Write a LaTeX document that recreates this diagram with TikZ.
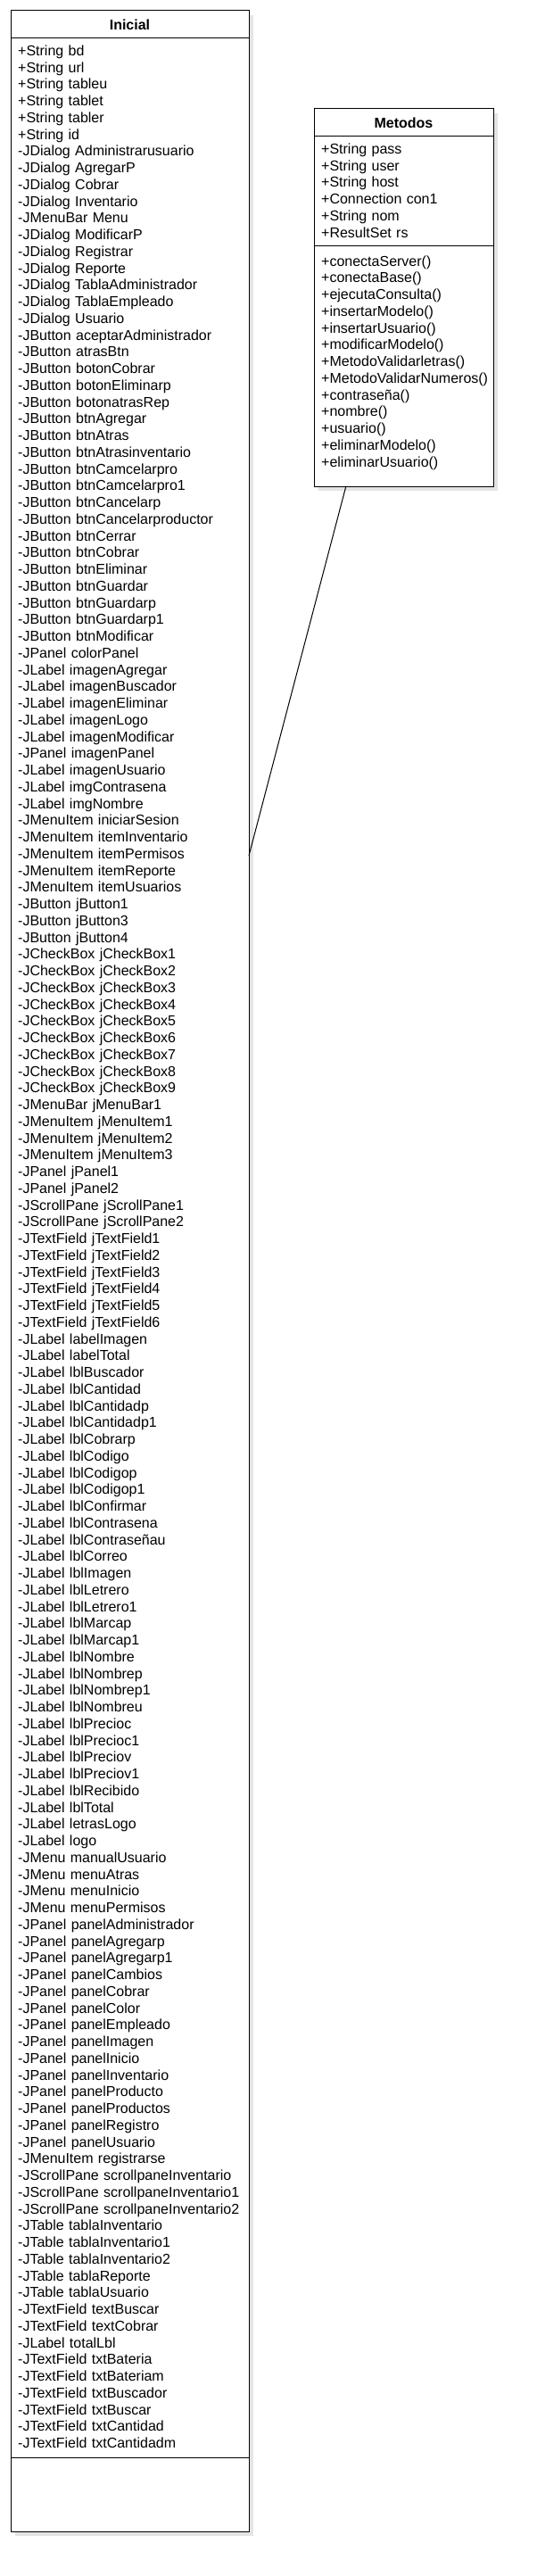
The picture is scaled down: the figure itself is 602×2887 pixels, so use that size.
\documentclass[tikz,border=0pt]{standalone}
\usepackage{fontspec}
\setmainfont{Liberation Sans}
\usetikzlibrary{shadows}
\begin{document}
\begin{tikzpicture}[x=1pt,y=-1pt,
  classbox/.style={draw,line width=1pt,fill=white,inner sep=0pt,outer sep=0pt,
    drop shadow={shadow xshift=5pt,shadow yshift=-5pt,fill=black!30,opacity=.35}},
  classname/.style={inner sep=0pt,font=\fontsize{16}{18.75}\selectfont\bfseries},
  members/.style={anchor=north west,align=left,text width=250pt,inner sep=0pt,font=\fontsize{16}{18.75}\selectfont}]
\useasboundingbox (0,0) rectangle (602,2887);

% class Inicial
\node[classbox,minimum width=267pt,minimum height=2825pt] (inicial) at (145.5,1424.5) {};
\node[classname] (inicialName) at (145.5,28) {Inicial};
\draw[line width=1pt] ([yshift=-31pt]inicial.north west) -- ([yshift=-31pt]inicial.north east);
\draw[line width=1pt] ([yshift=83pt]inicial.south west) -- ([yshift=83pt]inicial.south east);
\node[members] (inicialAttr) at (20,50.7) {+String bd\\+String url\\+String tableu\\+String tablet\\+String tabler\\+String id\\
-JDialog Administrarusuario\\-JDialog AgregarP\\-JDialog Cobrar\\-JDialog Inventario\\-JMenuBar Menu\\-JDialog ModificarP\\
-JDialog Registrar\\-JDialog Reporte\\-JDialog TablaAdministrador\\-JDialog TablaEmpleado\\-JDialog Usuario\\
-JButton aceptarAdministrador\\-JButton atrasBtn\\-JButton botonCobrar\\-JButton botonEliminarp\\-JButton botonatrasRep\\
-JButton btnAgregar\\-JButton btnAtras\\-JButton btnAtrasinventario\\-JButton btnCamcelarpro\\-JButton btnCamcelarpro1\\
-JButton btnCancelarp\\-JButton btnCancelarproductor\\-JButton btnCerrar\\-JButton btnCobrar\\-JButton btnEliminar\\
-JButton btnGuardar\\-JButton btnGuardarp\\-JButton btnGuardarp1\\-JButton btnModificar\\-JPanel colorPanel\\
-JLabel imagenAgregar\\-JLabel imagenBuscador\\-JLabel imagenEliminar\\-JLabel imagenLogo\\-JLabel imagenModificar\\
-JPanel imagenPanel\\-JLabel imagenUsuario\\-JLabel imgContrasena\\-JLabel imgNombre\\-JMenuItem iniciarSesion\\
-JMenuItem itemInventario\\-JMenuItem itemPermisos\\-JMenuItem itemReporte\\-JMenuItem itemUsuarios\\
-JButton jButton1\\-JButton jButton3\\-JButton jButton4\\-JCheckBox jCheckBox1\\-JCheckBox jCheckBox2\\
-JCheckBox jCheckBox3\\-JCheckBox jCheckBox4\\-JCheckBox jCheckBox5\\-JCheckBox jCheckBox6\\-JCheckBox jCheckBox7\\
-JCheckBox jCheckBox8\\-JCheckBox jCheckBox9\\-JMenuBar jMenuBar1\\-JMenuItem jMenuItem1\\-JMenuItem jMenuItem2\\
-JMenuItem jMenuItem3\\-JPanel jPanel1\\-JPanel jPanel2\\-JScrollPane jScrollPane1\\-JScrollPane jScrollPane2\\
-JTextField jTextField1\\-JTextField jTextField2\\-JTextField jTextField3\\-JTextField jTextField4\\
-JTextField jTextField5\\-JTextField jTextField6\\-JLabel labelImagen\\-JLabel labelTotal\\-JLabel lblBuscador\\
-JLabel lblCantidad\\-JLabel lblCantidadp\\-JLabel lblCantidadp1\\-JLabel lblCobrarp\\-JLabel lblCodigo\\
-JLabel lblCodigop\\-JLabel lblCodigop1\\-JLabel lblConfirmar\\-JLabel lblContrasena\\-JLabel lblContraseñau\\
-JLabel lblCorreo\\-JLabel lblImagen\\-JLabel lblLetrero\\-JLabel lblLetrero1\\-JLabel lblMarcap\\-JLabel lblMarcap1\\
-JLabel lblNombre\\-JLabel lblNombrep\\-JLabel lblNombrep1\\-JLabel lblNombreu\\-JLabel lblPrecioc\\
-JLabel lblPrecioc1\\-JLabel lblPreciov\\-JLabel lblPreciov1\\-JLabel lblRecibido\\-JLabel lblTotal\\
-JLabel letrasLogo\\-JLabel logo\\-JMenu manualUsuario\\-JMenu menuAtras\\-JMenu menuInicio\\-JMenu menuPermisos\\
-JPanel panelAdministrador\\-JPanel panelAgregarp\\-JPanel panelAgregarp1\\-JPanel panelCambios\\-JPanel panelCobrar\\
-JPanel panelColor\\-JPanel panelEmpleado\\-JPanel panelImagen\\-JPanel panelInicio\\-JPanel panelInventario\\
-JPanel panelProducto\\-JPanel panelProductos\\-JPanel panelRegistro\\-JPanel panelUsuario\\-JMenuItem registrarse\\
-JScrollPane scrollpaneInventario\\-JScrollPane scrollpaneInventario1\\-JScrollPane scrollpaneInventario2\\
-JTable tablaInventario\\-JTable tablaInventario1\\-JTable tablaInventario2\\-JTable tablaReporte\\-JTable tablaUsuario\\
-JTextField textBuscar\\-JTextField textCobrar\\-JLabel totalLbl\\-JTextField txtBateria\\-JTextField txtBateriam\\
-JTextField txtBuscador\\-JTextField txtBuscar\\-JTextField txtCantidad\\-JTextField txtCantidadm};

% class Metodos
\node[classbox,minimum width=201pt,minimum height=423pt] (metodos) at (452.5,333.5) {};
\node[classname] (metodosName) at (452.5,138) {Metodos};
\draw[line width=1pt] ([yshift=-31pt]metodos.north west) -- ([yshift=-31pt]metodos.north east);
\draw[line width=1pt] ([yshift=-154pt]metodos.north west) -- ([yshift=-154pt]metodos.north east);
\node[members,text width=190pt] (metodosAttr) at (360,160.7) {+String pass\\+String user\\+String host\\+Connection con1\\+String nom\\+ResultSet rs};
\node[members,text width=190pt] (metodosOps) at (360,286.4) {+conectaServer()\\+conectaBase()\\+ejecutaConsulta()\\+insertarModelo()\\
+insertarUsuario()\\+modificarModelo()\\+MetodoValidarletras()\\+MetodoValidarNumeros()\\+contraseña()\\
+nombre()\\+usuario()\\+eliminarModelo()\\+eliminarUsuario()};

\draw[line width=1pt] (metodos.253.5) -- (inicial.74.4);
\end{tikzpicture}
\end{document}
